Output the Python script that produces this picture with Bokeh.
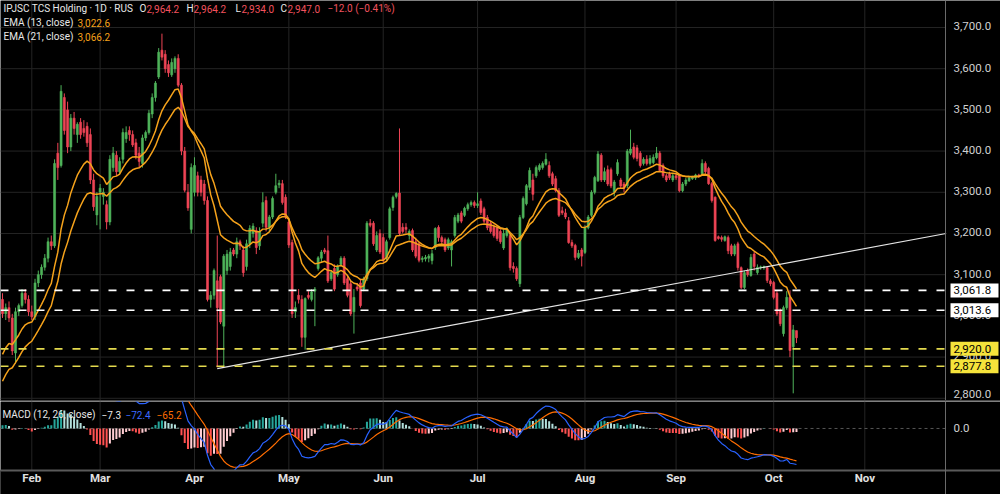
from bokeh.plotting import figure
from bokeh.layouts import column
from bokeh.models import Range1d, Span, Label, ColumnDataSource
from bokeh.core.properties import value
from bokeh.embed import file_html
from bokeh.resources import INLINE

# ---------------- data (daily candles) ----------------
opens = [
    3040, 3005, 3020, 2995, 2910, 3010, 3025, 3055, 3040, 3010,
    2998, 3080, 3100, 3118, 3140, 3180, 3170, 3395, 3365, 3530,
    3500, 3410, 3480, 3440, 3470, 3455, 3460, 3440, 3330, 3245,
    3300, 3290, 3270, 3228, 3360, 3390, 3350, 3380, 3430, 3450,
    3440, 3420, 3395, 3370, 3432, 3445, 3490, 3530, 3580, 3645,
    3635, 3610, 3585, 3600, 3625, 3560, 3400, 3300, 3210, 3300,
    3340, 3330, 3320, 3280, 3040, 3050, 3085, 3095, 2975, 3110,
    3120, 3160, 3150, 3180, 3160, 3120, 3175, 3200, 3207, 3170,
    3225, 3280, 3215, 3240, 3300, 3318, 3321, 3288, 3228, 3178,
    3010, 3050, 3040, 2948, 3050, 3040, 3060, 3115, 3140, 3160,
    3158, 3090, 3115, 3100, 3125, 3140, 3090, 3078, 3010, 3070,
    3080, 3065, 3090, 3225, 3225, 3160, 3200, 3190, 3140, 3190,
    3263, 3290, 3298, 3215, 3215, 3195, 3207, 3180, 3175, 3137,
    3138, 3140, 3134, 3166, 3215, 3190, 3185, 3165, 3160, 3195,
    3230, 3250, 3244, 3260, 3270, 3275, 3268, 3279, 3260, 3239,
    3225, 3215, 3214, 3205, 3165, 3195, 3195, 3120, 3115, 3078,
    3239, 3272, 3312, 3330, 3340, 3355, 3360, 3368, 3365, 3345,
    3333, 3304, 3255, 3250, 3231, 3178, 3171, 3142, 3160, 3154,
    3214, 3244, 3300, 3328, 3390, 3330, 3355, 3355, 3300, 3345,
    3330, 3320, 3316, 3395, 3410, 3408, 3395, 3370, 3380, 3370,
    3372, 3384, 3395, 3365, 3340, 3345, 3330, 3340, 3340, 3304,
    3320, 3328, 3333, 3335, 3342, 3345, 3370, 3358, 3321, 3288,
    3192, 3190, 3183, 3190, 3170, 3150, 3175, 3117, 3069, 3110,
    3098, 3150, 3105, 3117, 3117, 3117, 3085, 3081, 3055, 3013,
    2957, 3020, 3045, 2925, 2964.2,
]
highs = [
    3055, 3030, 3035, 3005, 3020, 3030, 3065, 3065, 3050, 3025,
    3090, 3110, 3125, 3150, 3190, 3195, 3380, 3420, 3560, 3540,
    3520, 3490, 3495, 3470, 3480, 3475, 3470, 3455, 3345, 3300,
    3320, 3310, 3280, 3390, 3410, 3400, 3385, 3455, 3460, 3460,
    3450, 3430, 3410, 3440, 3450, 3500, 3540, 3570, 3650, 3685,
    3645, 3620, 3625, 3630, 3635, 3565, 3410, 3320, 3370, 3385,
    3350, 3340, 3330, 3290, 3060, 3115, 3195, 3100, 3150, 3160,
    3165, 3165, 3190, 3185, 3170, 3185, 3220, 3225, 3215, 3215,
    3300, 3290, 3245, 3290, 3345, 3330, 3330, 3295, 3235, 3185,
    3035, 3065, 3050, 3045, 3060, 3065, 3070, 3145, 3160, 3165,
    3195, 3110, 3125, 3125, 3145, 3145, 3100, 3085, 3065, 3080,
    3090, 3095, 3230, 3235, 3230, 3205, 3210, 3200, 3185, 3265,
    3292, 3300, 3455, 3225, 3225, 3210, 3212, 3190, 3180, 3145,
    3148, 3150, 3160, 3215, 3220, 3195, 3190, 3190, 3185, 3245,
    3250, 3255, 3265, 3275, 3280, 3280, 3300, 3285, 3265, 3245,
    3230, 3222, 3220, 3210, 3210, 3215, 3200, 3130, 3120, 3245,
    3290, 3320, 3360, 3345, 3365, 3370, 3375, 3395, 3375, 3350,
    3340, 3310, 3265, 3260, 3240, 3185, 3175, 3160, 3165, 3220,
    3245, 3305, 3340, 3400, 3395, 3360, 3365, 3360, 3330, 3380,
    3335, 3325, 3405, 3452, 3420, 3415, 3400, 3385, 3390, 3390,
    3392, 3410, 3400, 3370, 3345, 3350, 3345, 3345, 3345, 3325,
    3335, 3340, 3340, 3345, 3345, 3380, 3375, 3362, 3325, 3290,
    3195, 3195, 3195, 3195, 3175, 3175, 3180, 3120, 3110, 3115,
    3150, 3155, 3125, 3122, 3122, 3120, 3090, 3085, 3060, 3018,
    3025, 3060, 3062, 2978, 2964.2,
]
lows = [
    2995, 2990, 2985, 2905, 2884, 3000, 3020, 3030, 3000, 2990,
    2990, 3070, 3090, 3110, 3130, 3160, 3165, 3330, 3360, 3440,
    3395, 3400, 3440, 3420, 3430, 3435, 3410, 3320, 3255, 3220,
    3210, 3270, 3210, 3220, 3350, 3340, 3345, 3370, 3420, 3425,
    3410, 3380, 3360, 3360, 3425, 3440, 3480, 3520, 3575, 3620,
    3590, 3580, 3580, 3590, 3555, 3390, 3300, 3255, 3200, 3290,
    3290, 3290, 3270, 3035, 3020, 3040, 2875, 2980, 2878, 3100,
    3110, 3145, 3140, 3160, 3095, 3110, 3165, 3190, 3150, 3160,
    3215, 3205, 3205, 3235, 3295, 3310, 3270, 3235, 3165, 2995,
    2995, 3030, 2925, 2918, 3040, 3035, 2975, 3110, 3130, 3150,
    3080, 3085, 3060, 3095, 3120, 3075, 3045, 3000, 2957, 3060,
    3020, 3060, 3085, 3215, 3170, 3155, 3150, 3130, 3135, 3185,
    3255, 3285, 3195, 3200, 3200, 3185, 3155, 3140, 3130, 3130,
    3132, 3130, 3125, 3160, 3180, 3175, 3155, 3160, 3120, 3190,
    3225, 3225, 3240, 3255, 3265, 3262, 3262, 3245, 3225, 3208,
    3200, 3190, 3182, 3175, 3160, 3190, 3110, 3105, 3085, 3070,
    3235, 3268, 3305, 3280, 3335, 3350, 3355, 3365, 3335, 3315,
    3300, 3240, 3245, 3235, 3175, 3165, 3135, 3138, 3120, 3150,
    3210, 3240, 3295, 3325, 3325, 3325, 3315, 3310, 3290, 3340,
    3310, 3300, 3310, 3390, 3380, 3375, 3360, 3365, 3365, 3365,
    3368, 3380, 3350, 3335, 3325, 3330, 3325, 3330, 3300, 3300,
    3315, 3325, 3330, 3330, 3335, 3340, 3345, 3318, 3275, 3180,
    3185, 3180, 3180, 3150, 3145, 3145, 3110, 3065, 3065, 3095,
    3095, 3110, 3100, 3112, 3112, 3080, 3072, 3040, 3000, 2975,
    2950, 3015, 2900, 2812, 2934.0,
]
closes = [
    3005, 3020, 2995, 2915, 3010, 3025, 3055, 3040, 3010, 2998,
    3080, 3100, 3118, 3140, 3180, 3170, 3370, 3360, 3545, 3450,
    3410, 3480, 3455, 3465, 3440, 3445, 3420, 3330, 3265, 3290,
    3310, 3300, 3228, 3380, 3395, 3350, 3375, 3445, 3445, 3440,
    3415, 3390, 3375, 3432, 3445, 3492, 3530, 3565, 3640, 3628,
    3600, 3590, 3615, 3625, 3560, 3400, 3305, 3262, 3360, 3365,
    3300, 3300, 3280, 3040, 3050, 3110, 3020, 2985, 3145, 3150,
    3155, 3150, 3180, 3170, 3105, 3175, 3212, 3218, 3166, 3205,
    3275, 3215, 3240, 3285, 3316, 3322, 3275, 3240, 3172, 3005,
    3020, 3040, 2948, 3042, 3045, 3058, 3065, 3141, 3155, 3155,
    3085, 3105, 3065, 3120, 3140, 3080, 3050, 3005, 3045, 3065,
    3025, 3090, 3225, 3220, 3175, 3195, 3155, 3135, 3180, 3260,
    3288, 3297, 3200, 3205, 3210, 3205, 3160, 3145, 3135, 3140,
    3142, 3145, 3151, 3212, 3190, 3180, 3160, 3185, 3180, 3239,
    3245, 3230, 3261, 3270, 3275, 3268, 3272, 3251, 3230, 3214,
    3205, 3195, 3188, 3180, 3200, 3210, 3117, 3115, 3090, 3239,
    3285, 3316, 3353, 3295, 3360, 3365, 3370, 3380, 3340, 3320,
    3304, 3244, 3250, 3240, 3178, 3170, 3142, 3152, 3145, 3214,
    3240, 3300, 3336, 3393, 3330, 3350, 3320, 3315, 3325, 3372,
    3315, 3310, 3400, 3405, 3385, 3382, 3365, 3380, 3370, 3382,
    3385, 3395, 3353, 3340, 3330, 3335, 3340, 3335, 3304, 3320,
    3330, 3335, 3337, 3342, 3338, 3370, 3350, 3321, 3280, 3183,
    3188, 3186, 3192, 3158, 3150, 3170, 3117, 3069, 3105, 3100,
    3142, 3120, 3118, 3119, 3120, 3086, 3078, 3045, 3005, 2981,
    3020, 3045, 2916, 2966, 2947.0,
]

# indicator starting values (levels just before the first visible bar)
ema13_start = 2890
ema21_start = 2825
ema12_start = 2895
ema26_start = 2815
signal_start = 75

month_labels = ["Feb", "Mar", "Apr", "May", "Jun", "Jul", "Aug", "Sep", "Oct", "Nov"]
month_bars = [9, 30, 59, 88, 117, 146, 179, 207, 237, 265]

price_ticks = [2800, 2900, 3000, 3100, 3200, 3300, 3400, 3500, 3600, 3700]
macd_ticks = [0.0]
levels_white = [3061.8, 3013.6]
levels_yellow = [2920.0, 2877.8]
trend_x = [66, 290]
trend_y = [2872, 3200]

# ---------------- derived series ----------------
def ema_series(vals, n, start):
    a = 2.0 / (n + 1)
    out, prev = [], start
    for v in vals:
        prev = prev + a * (v - prev)
        out.append(prev)
    return out

N = len(closes)
idx = list(range(N))
ema13 = ema_series(closes, 13, ema13_start)
ema21 = ema_series(closes, 21, ema21_start)
fast = ema_series(closes, 12, ema12_start)
slow = ema_series(closes, 26, ema26_start)
macd = [f - s for f, s in zip(fast, slow)]
signal = ema_series(macd, 9, signal_start)
hist = [m - s for m, s in zip(macd, signal)]

UP = "#4fb35a"
DN = "#ee4455"
colors = [UP if c >= o else DN for o, c in zip(opens, closes)]
tops = [max(o, c) for o, c in zip(opens, closes)]
bots = [min(o, c) for o, c in zip(opens, closes)]

hcols = []
prev = (ema12_start - ema26_start) - signal_start
for hv in hist:
    if hv >= 0:
        hcols.append("#26a69a" if hv > prev else "#b2dfdb")
    else:
        hcols.append("#ff5252" if hv < prev else "#ffcdd2")
    prev = hv

# ---------------- layout constants (pixels -> bar units) ----------------
BAR_PX = 3.254
X0_PX = 2.0
def px(xp):
    return (xp - X0_PX) / BAR_PX

X_LEFT = px(0)
X_AXIS = px(945)
X_LBL = px(953)
X_BOX_L = px(950)
X_BOX_R = px(998)
X_RIGHT = px(1000)

FONT = "Roboto"
BG = "#000000"
GRID = "#242424"
AXIS_LINE = "#6a6a6a"
AXIS_TXT = "#d0d0d0"

xr = Range1d(X_LEFT, X_RIGHT)

# price scale: 0.412 px per unit, 3700 at 27 px from top
P_TOP, P_BOT = 3765.5, 2792.2
# macd scale: 0.511 px per unit, 0 at 27 px from panel top
M_TOP, M_BOT, M_FRAME_BOT = 52.8, -129.2, -82.2

def base_fig(height, yr):
    f = figure(width=1000, height=height, x_range=xr, y_range=yr,
               output_backend="svg", toolbar_location=None,
               background_fill_color=BG, border_fill_color=BG, outline_line_color=None,
               min_border=0)
    f.axis.visible = False
    f.grid.visible = False
    return f

# ---------------- price panel ----------------
p1 = base_fig(401, Range1d(P_BOT, P_TOP))

# grid
p1.segment(x0=[X_LEFT] * len(price_ticks), y0=price_ticks,
           x1=[X_AXIS] * len(price_ticks), y1=price_ticks, color=GRID, line_width=1)
p1.segment(x0=month_bars, y0=[P_BOT] * len(month_bars), x1=month_bars,
           y1=[P_TOP] * len(month_bars), color=GRID, line_width=1)

src = ColumnDataSource(dict(x=idx, h=highs, l=lows, top=tops, bot=bots, col=colors))
p1.segment(x0="x", y0="h", x1="x", y1="l", color="col", line_width=1, source=src)
p1.vbar(x="x", top="top", bottom="bot", width=0.62, fill_color="col", line_color="col",
        line_width=0.6, source=src)

p1.line(idx, ema21, color="#f5a21b", line_width=1.5)
p1.line(idx, ema13, color="#f5a21b", line_width=1.5)
p1.line(trend_x, trend_y, color="#e6e6e6", line_width=1.2)

p1.segment(x0=[X_LEFT] * 2, y0=levels_white, x1=[X_AXIS] * 2, y1=levels_white,
           color="#ffffff", line_dash="8 10", line_width=1.6)
p1.segment(x0=[X_LEFT] * 2, y0=levels_yellow, x1=[X_AXIS] * 2, y1=levels_yellow,
           color="#e4da4e", line_dash="8 10", line_width=1.6)

# right price scale
p1.add_layout(Span(location=X_AXIS, dimension="height", line_color=AXIS_LINE, line_width=1))
tick_src = ColumnDataSource(dict(
    x=[X_LBL] * len(price_ticks), y=price_ticks,
    text=[f"{t:,.1f}" for t in price_ticks],
    dy=[-4 if t == min(price_ticks) else -1 for t in price_ticks]))
p1.text(x="x", y="y", text="text", y_offset="dy", source=tick_src, text_font=value(FONT),
        text_font_size="11.5px", text_color=AXIS_TXT, text_baseline="middle")

box_h = 7 / 0.412
all_lv = levels_white + levels_yellow
box_fill = ["#ffffff"] * len(levels_white) + ["#f5e33b"] * len(levels_yellow)
p1.quad(left=[X_BOX_L] * len(all_lv), right=[X_BOX_R] * len(all_lv),
        bottom=[v - box_h for v in all_lv], top=[v + box_h for v in all_lv],
        fill_color=box_fill, line_color=None)
p1.text(x=[X_LBL] * len(all_lv), y=all_lv, text=[f"{v:,.1f}" for v in all_lv],
        text_font=value(FONT), text_font_size="11.5px", text_color="#000000",
        text_baseline="middle")

# panel separator
p1.add_layout(Span(location=P_BOT + 1.2, dimension="width", line_color="#4a4a4a", line_width=2))

def txt(plot, x, y, text, color="#e8e8e8"):
    plot.add_layout(Label(x=x, y=y, x_units="screen", y_units="screen", text=text,
                          text_font=FONT, text_font_size="10px", text_color=color,
                          text_baseline="middle"))

RED = "#f2525e"
ORG = "#f5a21b"
y1 = 401 - 8
txt(p1, 3, y1, "IPJSC TCS Holding · 1D · RUS")
txt(p1, 139, y1, "O")
txt(p1, 146, y1, "2,964.2", RED)
txt(p1, 186, y1, "H")
txt(p1, 193, y1, "2,964.2", RED)
txt(p1, 235, y1, "L")
txt(p1, 241, y1, "2,934.0", RED)
txt(p1, 280, y1, "C")
txt(p1, 287, y1, "2,947.0", RED)
txt(p1, 327, y1, "−12.0 (−0.41%)", RED)
txt(p1, 3, 401 - 22, "EMA (13, close)")
txt(p1, 77, 401 - 22, "3,022.6", ORG)
txt(p1, 3, 401 - 36, "EMA (21, close)")
txt(p1, 77, 401 - 36, "3,066.2", ORG)

# ---------------- MACD panel ----------------
p2 = base_fig(93, Range1d(M_BOT, M_TOP))

p2.segment(x0=month_bars, y0=[M_FRAME_BOT] * len(month_bars), x1=month_bars,
           y1=[M_TOP] * len(month_bars), color=GRID, line_width=1)
p2.segment(x0=[X_LEFT], y0=[0], x1=[X_AXIS], y1=[0], color="#555555",
           line_dash="3 3", line_width=1)

hsrc = ColumnDataSource(dict(x=idx, top=hist, col=hcols))
p2.vbar(x="x", top="top", bottom=0, width=0.62, fill_color="col", line_color=None, source=hsrc)
p2.line(idx, signal, color="#ff6d00", line_width=1.2)
p2.line(idx, macd, color="#2962ff", line_width=1.2)

# mask below the indicator pane, then the time scale
p2.quad(left=[X_LEFT - 1], right=[X_RIGHT + 1], bottom=[M_BOT - 5], top=[M_FRAME_BOT],
        fill_color=BG, line_color=None)
p2.add_layout(Span(location=M_FRAME_BOT, dimension="width", line_color="#5a5a5a", line_width=2))
p2.add_layout(Span(location=X_AXIS, dimension="height", line_color=AXIS_LINE, line_width=1))
p2.text(x=month_bars, y=[-(478 - 428) / 0.511] * len(month_bars), text=month_labels,
        text_font=value(FONT), text_font_size="11.5px", text_font_style="bold",
        text_color="#e0e0e0", text_align="center", text_baseline="middle")
p2.text(x=[X_LBL] * len(macd_ticks), y=macd_ticks, text=[f"{t:.1f}" for t in macd_ticks],
        text_font=value(FONT), text_font_size="11.5px", text_color=AXIS_TXT,
        text_baseline="middle")

ym = 93 - 13
txt(p2, 2, ym, "MACD (12, 26, close)")
txt(p2, 101, ym, "−7.3")
txt(p2, 125, ym, "−72.4", "#3d6bff")
txt(p2, 156, ym, "−65.2", "#ff6d00")

layout = column(p1, p2, spacing=0)
open("out.html", "w").write(file_html(layout, INLINE))
